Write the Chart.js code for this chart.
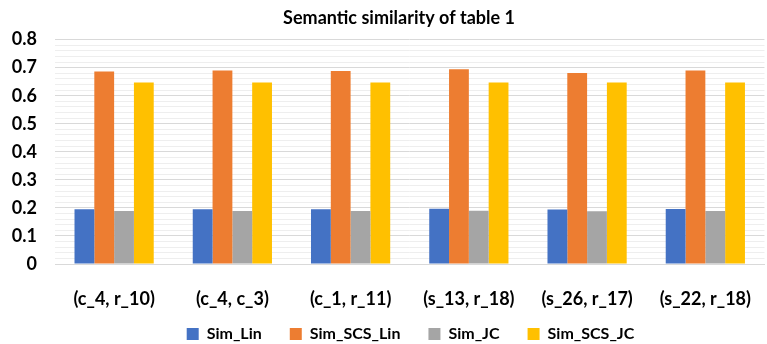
<!DOCTYPE html>
<html>
<head>
<meta charset="utf-8">
<script src="https://cdn.jsdelivr.net/npm/chart.js@4"></script>
<style>
  html, body { margin: 0; padding: 0; background: #fff; }
  #wrap { width: 767px; height: 344px; position: relative; }
</style>
</head>
<body>
<div id="wrap"><canvas id="c"></canvas></div>
<script>
const categories = ["(c_4, r_10)", "(c_4, c_3)", "(c_1, r_11)", "(s_13, r_18)", "(s_26, r_17)", "(s_22, r_18)"];
const simLin    = [0.195, 0.195, 0.195, 0.197, 0.194, 0.196];
const simSCSLin = [0.686, 0.690, 0.688, 0.694, 0.681, 0.690];
const simJC     = [0.189, 0.189, 0.189, 0.190, 0.188, 0.189];
const simSCSJC  = [0.647, 0.647, 0.647, 0.647, 0.647, 0.647];
const yTicks = [0, 0.1, 0.2, 0.3, 0.4, 0.5, 0.6, 0.7, 0.8];

const FONT = "Lato, 'Open Sans', sans-serif";
Chart.defaults.font.family = FONT;
Chart.defaults.color = '#000';

const shiftBlocks = {
  id: 'shiftBlocks',
  afterLayout(chart) {
    if (chart.titleBlock) chart.titleBlock.left += 19;
    const lg = chart.legend;
    if (lg) {
      lg.left += 42;
      const targetTop = 298;
      const d = lg.top - targetTop;
      lg.top -= d; lg.bottom -= d;
    }
  }
};

new Chart(document.getElementById('c'), {
  type: 'bar',
  data: {
    labels: categories,
    datasets: [
      { label: 'Sim_Lin', data: simLin, backgroundColor: '#4472C4' },
      { label: 'Sim_SCS_Lin', data: simSCSLin, backgroundColor: '#ED7D31' },
      { label: 'Sim_JC', data: simJC, backgroundColor: '#A5A5A5' },
      { label: 'Sim_SCS_JC', data: simSCSJC, backgroundColor: '#FFC000' }
    ]
  },
  plugins: [shiftBlocks],
  options: {
    responsive: true,
    maintainAspectRatio: false,
    animation: false,
    layout: { padding: { left: 0, right: -12, top: 0, bottom: -26 } },
    datasets: { bar: { categoryPercentage: 0.67, barPercentage: 1.0 } },
    plugins: {
      title: {
        display: true,
        text: 'Semantic similarity of table 1',
        font: { size: 18, weight: 'bold', family: FONT },
        color: '#000',
        padding: { top: 7, bottom: 11 }
      },
      legend: {
        position: 'bottom',
        labels: {
          boxWidth: 12, boxHeight: 12,
          font: { size: 16, weight: 'bold', family: FONT },
          color: '#000',
          padding: 28
        }
      },
      tooltip: { enabled: false }
    },
    scales: {
      x: {
        grid: { display: false },
        border: { display: true, color: '#D9D9D9' },
        ticks: { font: { size: 18, weight: 'bold', family: FONT }, color: '#000', padding: 16 },
        afterFit(s) { s.height = 52; }
      },
      y: {
        min: 0, max: 0.8,
        border: { display: false },
        grid: {
          drawTicks: false,
          color(ctx) {
            const v = ctx.tick ? ctx.tick.value : 0;
            const r = Math.round(v * 100);
            return (r % 10 === 0) ? '#D9D9D9' : '#EEEEEE';
          },
          lineWidth: 1
        },
        afterBuildTicks(s) {
          const t = [];
          for (let i = 0; i <= 40; i++) t.push({ value: Math.round(i * 2) / 100 });
          s.ticks = t;
        },
        ticks: {
          autoSkip: false,
          font: { size: 18, weight: 'bold', family: FONT },
          color: '#000',
          padding: 18,
          callback(v) {
            const r = Math.round(v * 100);
            if (r % 10 !== 0) return '';
            const idx = yTicks.findIndex(x => Math.round(x * 100) === r);
            return idx >= 0 ? String(yTicks[idx]) : '';
          }
        },
        afterFit(s) { s.width = 55; }
      }
    }
  }
});
</script>
</body>
</html>
